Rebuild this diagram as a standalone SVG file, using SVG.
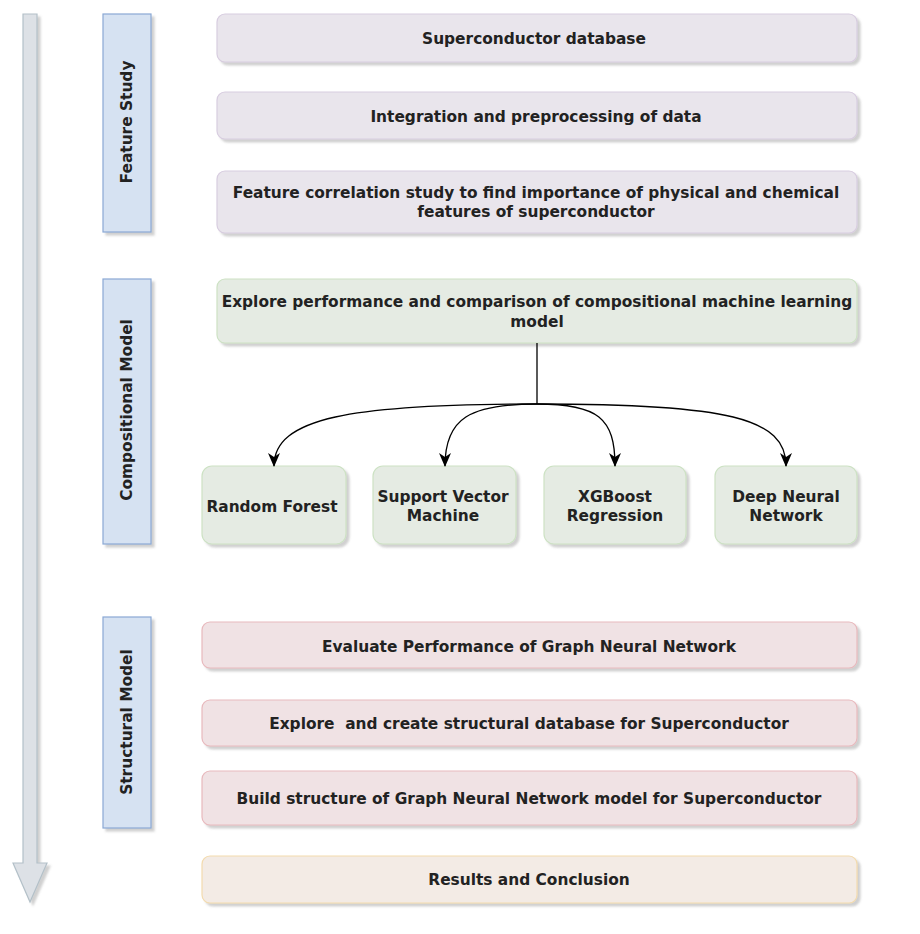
<svg xmlns="http://www.w3.org/2000/svg" width="920" height="934" viewBox="0 0 920 934">
<defs>
<filter id="sh" x="-10%" y="-10%" width="130%" height="130%">
<feDropShadow dx="3" dy="3" stdDeviation="0.8" flood-color="#7a7a7a" flood-opacity="0.35"/>
</filter>
<marker id="ah" viewBox="0 0 14 12" refX="13" refY="6" markerWidth="14" markerHeight="12" markerUnits="userSpaceOnUse" orient="auto">
<path d="M0,0 L14,6 L0,12 L4,6 Z" fill="#000"/>
</marker>
</defs>
<style>
text{font-family:"DejaVu Sans",Verdana,sans-serif;font-weight:bold;font-size:15.4px;fill:#222;text-anchor:middle;dominant-baseline:central}
.phase{fill:#d6e2f2;stroke:#8aa8d4;stroke-width:1.2;filter:url(#sh)}
.fs{fill:#e9e5ec;stroke:#d8cde0;stroke-width:1.2;filter:url(#sh)}
.cm{fill:#e5ebe3;stroke:#cde2c4;stroke-width:1.2;filter:url(#sh)}
.sm{fill:#f0e2e4;stroke:#e8b9bd;stroke-width:1.2;filter:url(#sh)}
.rs{fill:#f3ebe5;stroke:#f3dbae;stroke-width:1.2;filter:url(#sh)}
.edge{fill:none;stroke:#000;stroke-width:1.3}
</style>
<rect width="920" height="934" fill="#fff"/>
<g id="timeline">
<path d="M23,14 L37,14 L37,863 L47,863 L30,902 L13,863 L23,863 Z" fill="#dde1e6" stroke="#b3c0c8" stroke-width="1.2" filter="url(#sh)"/>
</g>
<g id="phase-feature">
<rect class="phase" x="103" y="14" width="48" height="218"/>
<text transform="translate(127,122) rotate(-90)">Feature Study</text>
</g>
<g id="phase-compositional">
<rect class="phase" x="103" y="279" width="48" height="265"/>
<text transform="translate(127,410) rotate(-90)">Compositional Model</text>
</g>
<g id="phase-structural">
<rect class="phase" x="103" y="617" width="48" height="211"/>
<text transform="translate(127,722) rotate(-90)">Structural Model</text>
</g>
<g id="n-superconductor-db">
<rect class="fs" x="217" y="14" width="640" height="48" rx="8"/>
<text x="534" y="39">Superconductor database</text>
</g>
<g id="n-integration">
<rect class="fs" x="217" y="92" width="640" height="47" rx="8"/>
<text x="536" y="117">Integration and preprocessing of data</text>
</g>
<g id="n-feature-corr">
<rect class="fs" x="217" y="171" width="640" height="62" rx="8"/>
<text x="536" y="193">Feature correlation study to find importance of physical and chemical</text>
<text x="536" y="212">features of superconductor</text>
</g>
<g id="n-explore-comp">
<rect class="cm" x="217" y="279" width="640" height="64" rx="8"/>
<text x="537" y="302">Explore performance and comparison of compositional machine learning</text>
<text x="537" y="322">model</text>
</g>
<g id="n-rf">
<rect class="cm" x="202" y="466" width="144" height="78" rx="10"/>
<text x="272" y="507">Random Forest</text>
</g>
<g id="n-svm">
<rect class="cm" x="373" y="466" width="143" height="78" rx="10"/>
<text x="443" y="497">Support Vector</text>
<text x="443" y="516">Machine</text>
</g>
<g id="n-xgb">
<rect class="cm" x="544" y="466" width="142" height="78" rx="10"/>
<text x="615" y="497">XGBoost</text>
<text x="615" y="516">Regression</text>
</g>
<g id="n-dnn">
<rect class="cm" x="715" y="466" width="142" height="78" rx="10"/>
<text x="786" y="497">Deep Neural</text>
<text x="786" y="516">Network</text>
</g>
<g id="n-evaluate-gnn">
<rect class="sm" x="202" y="622" width="655" height="46" rx="8"/>
<text x="529" y="647">Evaluate Performance of Graph Neural Network</text>
</g>
<g id="n-structural-db">
<rect class="sm" x="202" y="700" width="655" height="46" rx="8"/>
<text x="529" y="724" xml:space="preserve">Explore  and create structural database for Superconductor</text>
</g>
<g id="n-build-gnn">
<rect class="sm" x="202" y="771" width="655" height="54" rx="8"/>
<text x="529" y="799">Build structure of Graph Neural Network model for Superconductor</text>
</g>
<g id="n-results">
<rect class="rs" x="202" y="856" width="655" height="47" rx="8"/>
<text x="529" y="880">Results and Conclusion</text>
</g>
<g id="connectors">
<path class="edge" d="M537,343 L537,404"/>
<path class="edge" d="M537,404 C350,404 274,418 274,466" marker-end="url(#ah)"/>
<path class="edge" d="M537,404 C470,404 445,418 445,466" marker-end="url(#ah)"/>
<path class="edge" d="M537,404 C598,404 615,418 615,466" marker-end="url(#ah)"/>
<path class="edge" d="M537,404 C728,404 786,418 786,466" marker-end="url(#ah)"/>
</g>
</svg>
